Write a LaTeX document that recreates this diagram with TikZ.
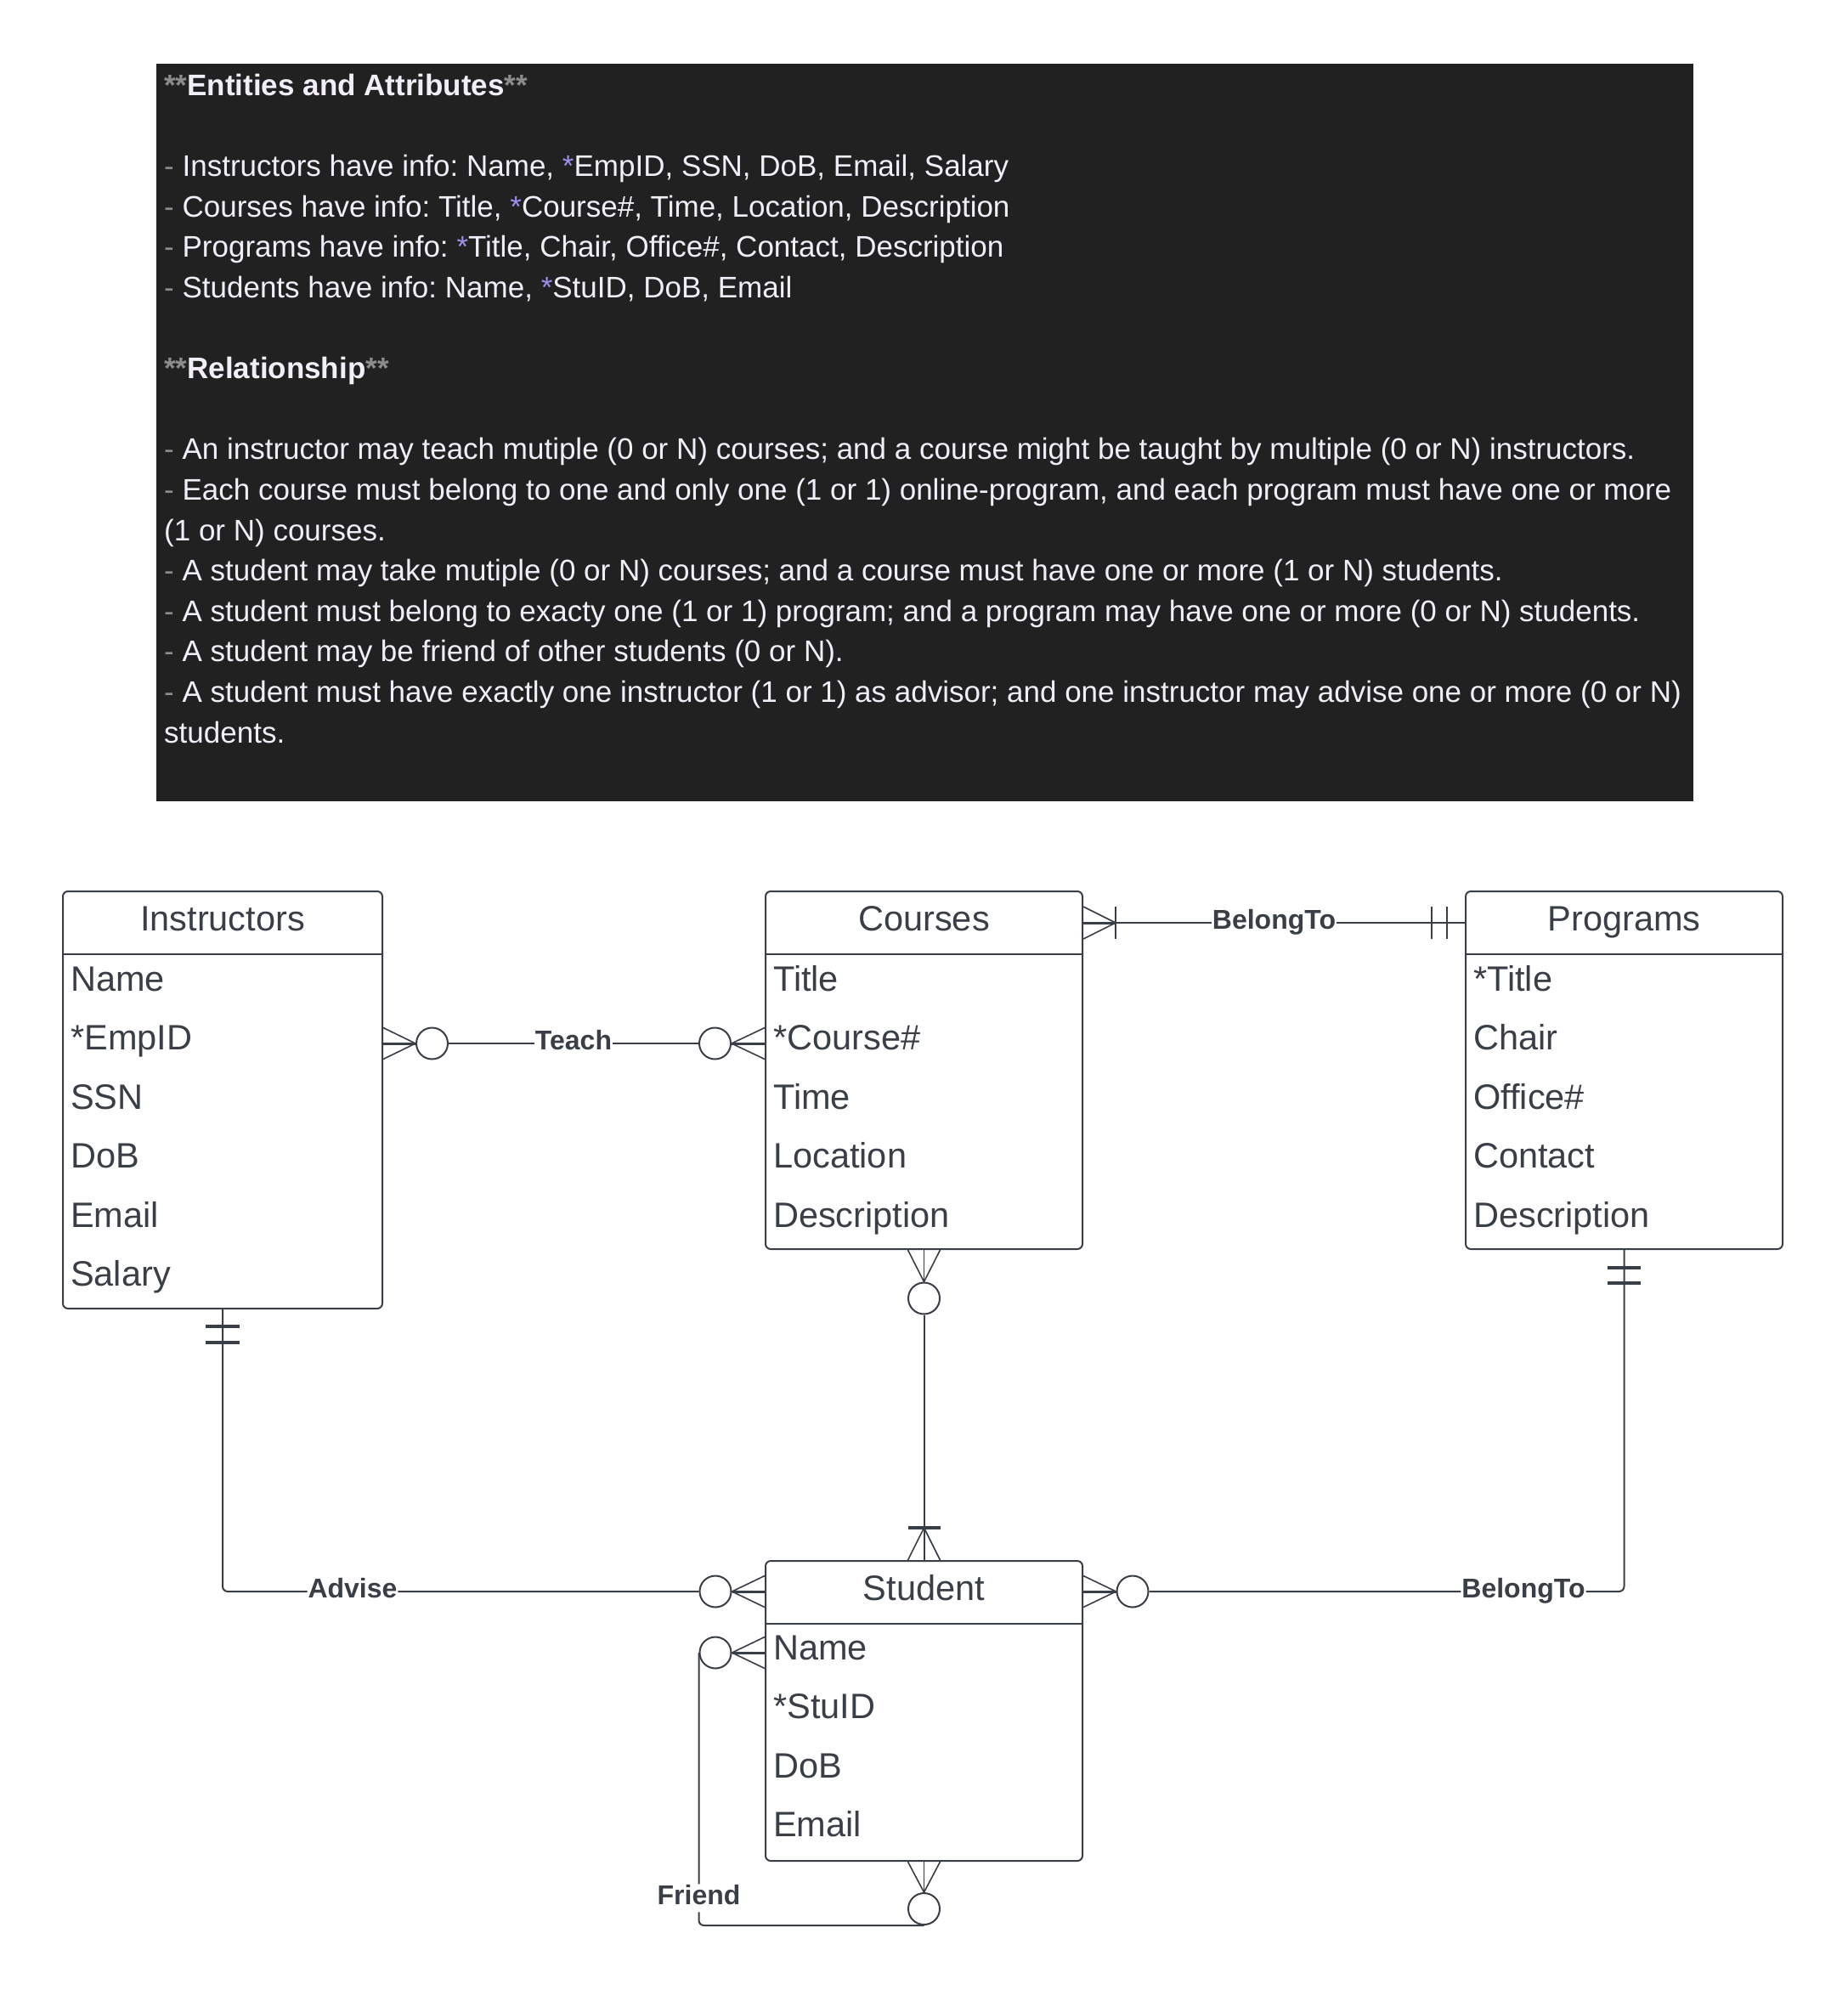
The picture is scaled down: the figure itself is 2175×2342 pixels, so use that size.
\documentclass[tikz,border=0pt]{standalone}
\usepackage{fontspec}
\setmainfont{Liberation Sans}
\usetikzlibrary{calc}
\frenchspacing
\definecolor{ink}{HTML}{3A3F47}
\definecolor{panelbg}{HTML}{212121}
\definecolor{paper}{HTML}{F2EEF8}
\definecolor{dim}{HTML}{8C8C8C}
\definecolor{keyc}{HTML}{9B90EE}
\newcommand\dsh{\textcolor{dim}{-} }
\newcommand\pk{\textcolor{keyc}{*}}
\newcommand\stars{\textcolor{dim}{**}}

\tikzset{
  entity/.style={draw=ink, line width=2pt, rounded corners=6pt, inner sep=0pt, fill=white},
  ttl/.style={font=\fontsize{41.5}{48}\selectfont, text=ink, inner sep=0pt, anchor=base},
  attr/.style={font=\fontsize{41.5}{48}\selectfont, text=ink, anchor=base west, inner sep=0pt},
  rel/.style={draw=ink, line width=2pt},
  foot/.style={draw=ink, line width=1.6pt},
  spine/.style={draw=ink, line width=3pt},
  bar/.style={draw=ink, line width=3.5pt},
  opt/.style={circle, draw=ink, line width=2pt, minimum size=37pt, inner sep=0pt, fill=white},
  lbl/.style={font=\bfseries\fontsize{32}{38}\selectfont, text=ink, fill=white, inner sep=1pt,
    text height=23pt, text depth=8pt},
  txt/.style={font=\fontsize{35}{42}\selectfont, text=paper, anchor=base west, inner sep=0pt},
}

\begin{document}
\begin{tikzpicture}[x=1pt, y=-1pt]
\useasboundingbox (0,0) rectangle (2175,2342);
\fill[white] (0,0) rectangle (2175,2342);

% ---------- notes panel ----------
\node[fill=panelbg, minimum width=1809pt, minimum height=868pt, inner sep=0pt, anchor=north west] (panel) at (184,75) {};
\foreach \i/\t in {
  0/{\textbf{\stars Entities and Attributes\stars}},
  2/{\dsh Instructors have info: Name, \pk EmpID, SSN, DoB, Email, Salary},
  3/{\dsh Courses have info: Title, \pk Course\#, Time, Location, Description},
  4/{\dsh Programs have info: \pk Title, Chair, Office\#, Contact, Description},
  5/{\dsh Students have info: Name, \pk StuID, DoB, Email},
  7/{\textbf{\stars Relationship\stars}},
  9/{\dsh An instructor may teach mutiple (0 or N) courses; and a course might be taught by multiple (0 or N) instructors.},
  10/{\dsh Each course must belong to one and only one (1 or 1) online-program, and each program must have one or more},
  11/{(1 or N) courses.},
  12/{\dsh A student may take mutiple (0 or N) courses; and a course must have one or more (1 or N) students.},
  13/{\dsh A student must belong to exacty one (1 or 1) program; and a program may have one or more (0 or N) students.},
  14/{\dsh A student may be friend of other students (0 or N).},
  15/{\dsh A student must have exactly one instructor (1 or 1) as advisor; and one instructor may advise one or more (0 or N)},
  16/{students.}}
  \node[txt] (note\i) at (193, {112.5+47.6*\i}) {\t};

% ---------- entities ----------
\node[entity, minimum width=376pt, minimum height=491pt] (instr) at (262,1294.5) {};
\node[entity, minimum width=373pt, minimum height=421pt] (cour) at (1087.5,1259.5) {};
\node[entity, minimum width=373pt, minimum height=421pt] (prog) at (1911.5,1259.5) {};
\node[entity, minimum width=373pt, minimum height=353pt] (stu) at (1087.5,2013.5) {};

\foreach \e/\name in {instr/Instructors, cour/Courses, prog/Programs, stu/Student}{
  \draw[ink, line width=1.5pt] ([yshift=-75pt]\e.north west) -- ([yshift=-75pt]\e.north east);
  \node[ttl] (\e-title) at ([yshift=-47pt]\e.north) {\name};
}
\foreach \t [count=\i from 0] in {Name,*EmpID,SSN,DoB,Email,Salary}
  \node[attr] (instr-a\i) at ([xshift=10pt, yshift={-118pt-\i*69.5pt}]instr.north west) {\t};
\foreach \t [count=\i from 0] in {Title,*Course\#,Time,Location,Description}
  \node[attr] (cour-a\i) at ([xshift=10pt, yshift={-118pt-\i*69.5pt}]cour.north west) {\t};
\foreach \t [count=\i from 0] in {*Title,Chair,Office\#,Contact,Description}
  \node[attr] (prog-a\i) at ([xshift=10pt, yshift={-118pt-\i*69.5pt}]prog.north west) {\t};
\foreach \t [count=\i from 0] in {Name,*StuID,DoB,Email}
  \node[attr] (stu-a\i) at ([xshift=10pt, yshift={-117pt-\i*69.5pt}]stu.north west) {\t};

% ---------- Teach: instructors (0..N) -- courses (0..N) ----------
\coordinate (teachA) at (instr.east |- 0,1228);
\coordinate (teachB) at (cour.west |- 0,1228);
\node[opt] (t1) at (508.5,1228) {};
\node[opt] (t2) at (841.5,1228) {};
\draw[foot] ([yshift=18.5pt]teachA) -- (t1.west) -- ([yshift=-18.5pt]teachA);
\draw[spine] (teachA) -- (t1.west);
\draw[foot] ([yshift=18.5pt]teachB) -- (t2.east) -- ([yshift=-18.5pt]teachB);
\draw[spine] (teachB) -- (t2.east);
\draw[rel] (t1) -- (t2) node[lbl, midway] (teachlbl) {Teach};

% ---------- BelongTo: courses (1..N) -- programs (1) ----------
\coordinate (bA) at (cour.east |- 0,1086);
\coordinate (bB) at (prog.west |- 0,1086);
\coordinate (bA2) at (1313,1086);
\draw[rel] (bA) -- (bB) node[lbl, midway] (belonglbl) {BelongTo};
\draw[foot] ([yshift=19pt]bA) -- (bA2) -- ([yshift=-19pt]bA);
\draw[spine] (bA) -- (bA2);
\draw[foot] ([yshift=19pt]bA2) -- ([yshift=-19pt]bA2);
\draw[foot] ([xshift=-21pt, yshift=19pt]bB) -- ([xshift=-21pt, yshift=-19pt]bB);
\draw[foot] ([xshift=-39pt, yshift=19pt]bB) -- ([xshift=-39pt, yshift=-19pt]bB);

% ---------- Takes: courses (0..N) -- student (1..N) ----------
\node[opt] (c1) at (1087.5,1528) {};
\coordinate (cS) at (1087.5,1798);
\draw[foot] ([xshift=-19pt]cour.south) -- (c1.north) -- ([xshift=19pt]cour.south);
\draw[foot] (cour.south) -- (c1.north);
\draw[rel] (c1) -- (stu.north);
\draw[foot] ([xshift=-19pt]stu.north) -- (cS) -- ([xshift=19pt]stu.north);
\draw[bar] ([xshift=-19pt]cS) -- ([xshift=19pt]cS);

% ---------- Advise: instructors (1) -- student (0..N) ----------
\node[opt] (a1) at (842,1873) {};
\coordinate (aS) at (stu.west |- a1);
\draw[rel, rounded corners=6pt] (instr.south) -- (instr.south |- a1) -- (a1)
  node[lbl, pos=0.273] (adviselbl) {Advise};
\draw[bar] ([xshift=-20pt, yshift=-20pt]instr.south) -- ([xshift=20pt, yshift=-20pt]instr.south);
\draw[bar] ([xshift=-20pt, yshift=-39pt]instr.south) -- ([xshift=20pt, yshift=-39pt]instr.south);
\draw[foot] ([yshift=18.5pt]aS) -- (a1.east) -- ([yshift=-18.5pt]aS);
\draw[spine] (aS) -- (a1.east);

% ---------- BelongTo: student (0..N) -- programs (1) ----------
\node[opt] (p1) at (1333,1873) {};
\coordinate (pS) at (stu.east |- p1);
\draw[rel, rounded corners=6pt] (p1) -- node[lbl, pos=0.788] (belong2lbl) {BelongTo}
  (prog.south |- p1) -- (prog.south);
\draw[foot] ([yshift=18.5pt]pS) -- (p1.west) -- ([yshift=-18.5pt]pS);
\draw[spine] (pS) -- (p1.west);
\draw[bar] ([xshift=-19.5pt, yshift=-21pt]prog.south) -- ([xshift=19.5pt, yshift=-21pt]prog.south);
\draw[bar] ([xshift=-19.5pt, yshift=-39pt]prog.south) -- ([xshift=19.5pt, yshift=-39pt]prog.south);

% ---------- Friend: student (0..N) -- student (0..N) ----------
\node[opt] (f1) at (842,1945) {};
\node[opt] (f2) at (1087.5,2246.5) {};
\coordinate (fS) at (stu.west |- f1);
\draw[rel, rounded corners=6pt] (f1.west) -- node[lbl, pos=0.9] (friendlbl) {Friend}
  (f1.west |- f2.south) -- (f2.south);
\draw[foot] ([yshift=18.5pt]fS) -- (f1.east) -- ([yshift=-18.5pt]fS);
\draw[spine] (fS) -- (f1.east);
\draw[foot] ([xshift=-19pt]stu.south) -- (f2.north) -- ([xshift=19pt]stu.south);
\draw[foot] (stu.south) -- (f2.north);
\end{tikzpicture}
\end{document}
